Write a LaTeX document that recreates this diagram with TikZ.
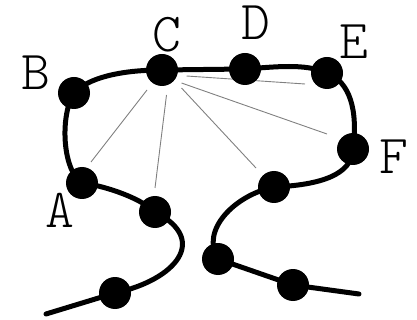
\documentclass[tikz,border=0pt]{standalone}
\usepackage{fontspec}
\newfontfamily\lablight{Latin Modern Mono Light}
\begin{document}
\begin{tikzpicture}[x=1pt,y=-1pt,
  dot/.style={circle,fill=black,inner sep=0pt,minimum size=32pt},
  lab/.style={inner sep=0pt,font=\lablight\fontsize{55}{55}\selectfont},
  chain/.style={line width=5pt,line cap=round},
  ray/.style={gray,line width=0.9pt}]
\useasboundingbox (0,0) rectangle (417,320);
% dot positions
\coordinate (s0) at (46,314);
\coordinate (p1) at (115,293);
\coordinate (a2) at (155,212);
\coordinate (a) at (82,183);
\coordinate (b) at (74,93);
\coordinate (c) at (162,70);
\coordinate (d) at (245,69);
\coordinate (e) at (327,73);
\coordinate (f) at (353,149);
\coordinate (g) at (274,187);
\coordinate (h) at (218,259);
\coordinate (i) at (293,285);
\coordinate (s1) at (359,294);
% the chain
\draw[chain] (s0) -- (p1)
  .. controls (175,280) and (210,240) .. (a2)
  .. controls (138,196) and (100,185) .. (a)
  .. controls (62,170) and (60,115) .. (b)
  .. controls (88,78) and (120,70) .. (c)
  -- (d)
  .. controls (275,67) and (305,63) .. (e)
  .. controls (350,82) and (358,110) .. (f)
  .. controls (352,175) and (320,185) .. (g)
  .. controls (235,195) and (200,230) .. (h)
  -- (i) -- (s1);
% gray rays from C
\coordinate (r1s) at (147,90);   \coordinate (r1e) at (91,162);
\coordinate (r2s) at (166.5,95); \coordinate (r2e) at (155,188);
\coordinate (r3s) at (181.5,88); \coordinate (r3e) at (256,168);
\coordinate (r4s) at (181.5,83); \coordinate (r4e) at (327,134);
\coordinate (r5s) at (186.5,76); \coordinate (r5e) at (305,84);
\draw[ray] (r1s) -- (r1e);
\draw[ray] (r2s) -- (r2e);
\draw[ray] (r3s) -- (r3e);
\draw[ray] (r4s) -- (r4e);
\draw[ray] (r5s) -- (r5e);
% dots
\foreach \n in {p1,a2,a,b,c,d,e,f,g,h,i}
  \node[dot] (n\n) at (\n) {};
% labels
\node[lab] (lA) at (60,210) {A};
\node[lab] (lB) at (36,73) {B};
\node[lab] (lC) at (166.7,35) {C};
\node[lab] (lD) at (256.3,22.5) {D};
\node[lab] (lE) at (354,42) {E};
\node[lab] (lF) at (393.5,157) {F};
\end{tikzpicture}
\end{document}
